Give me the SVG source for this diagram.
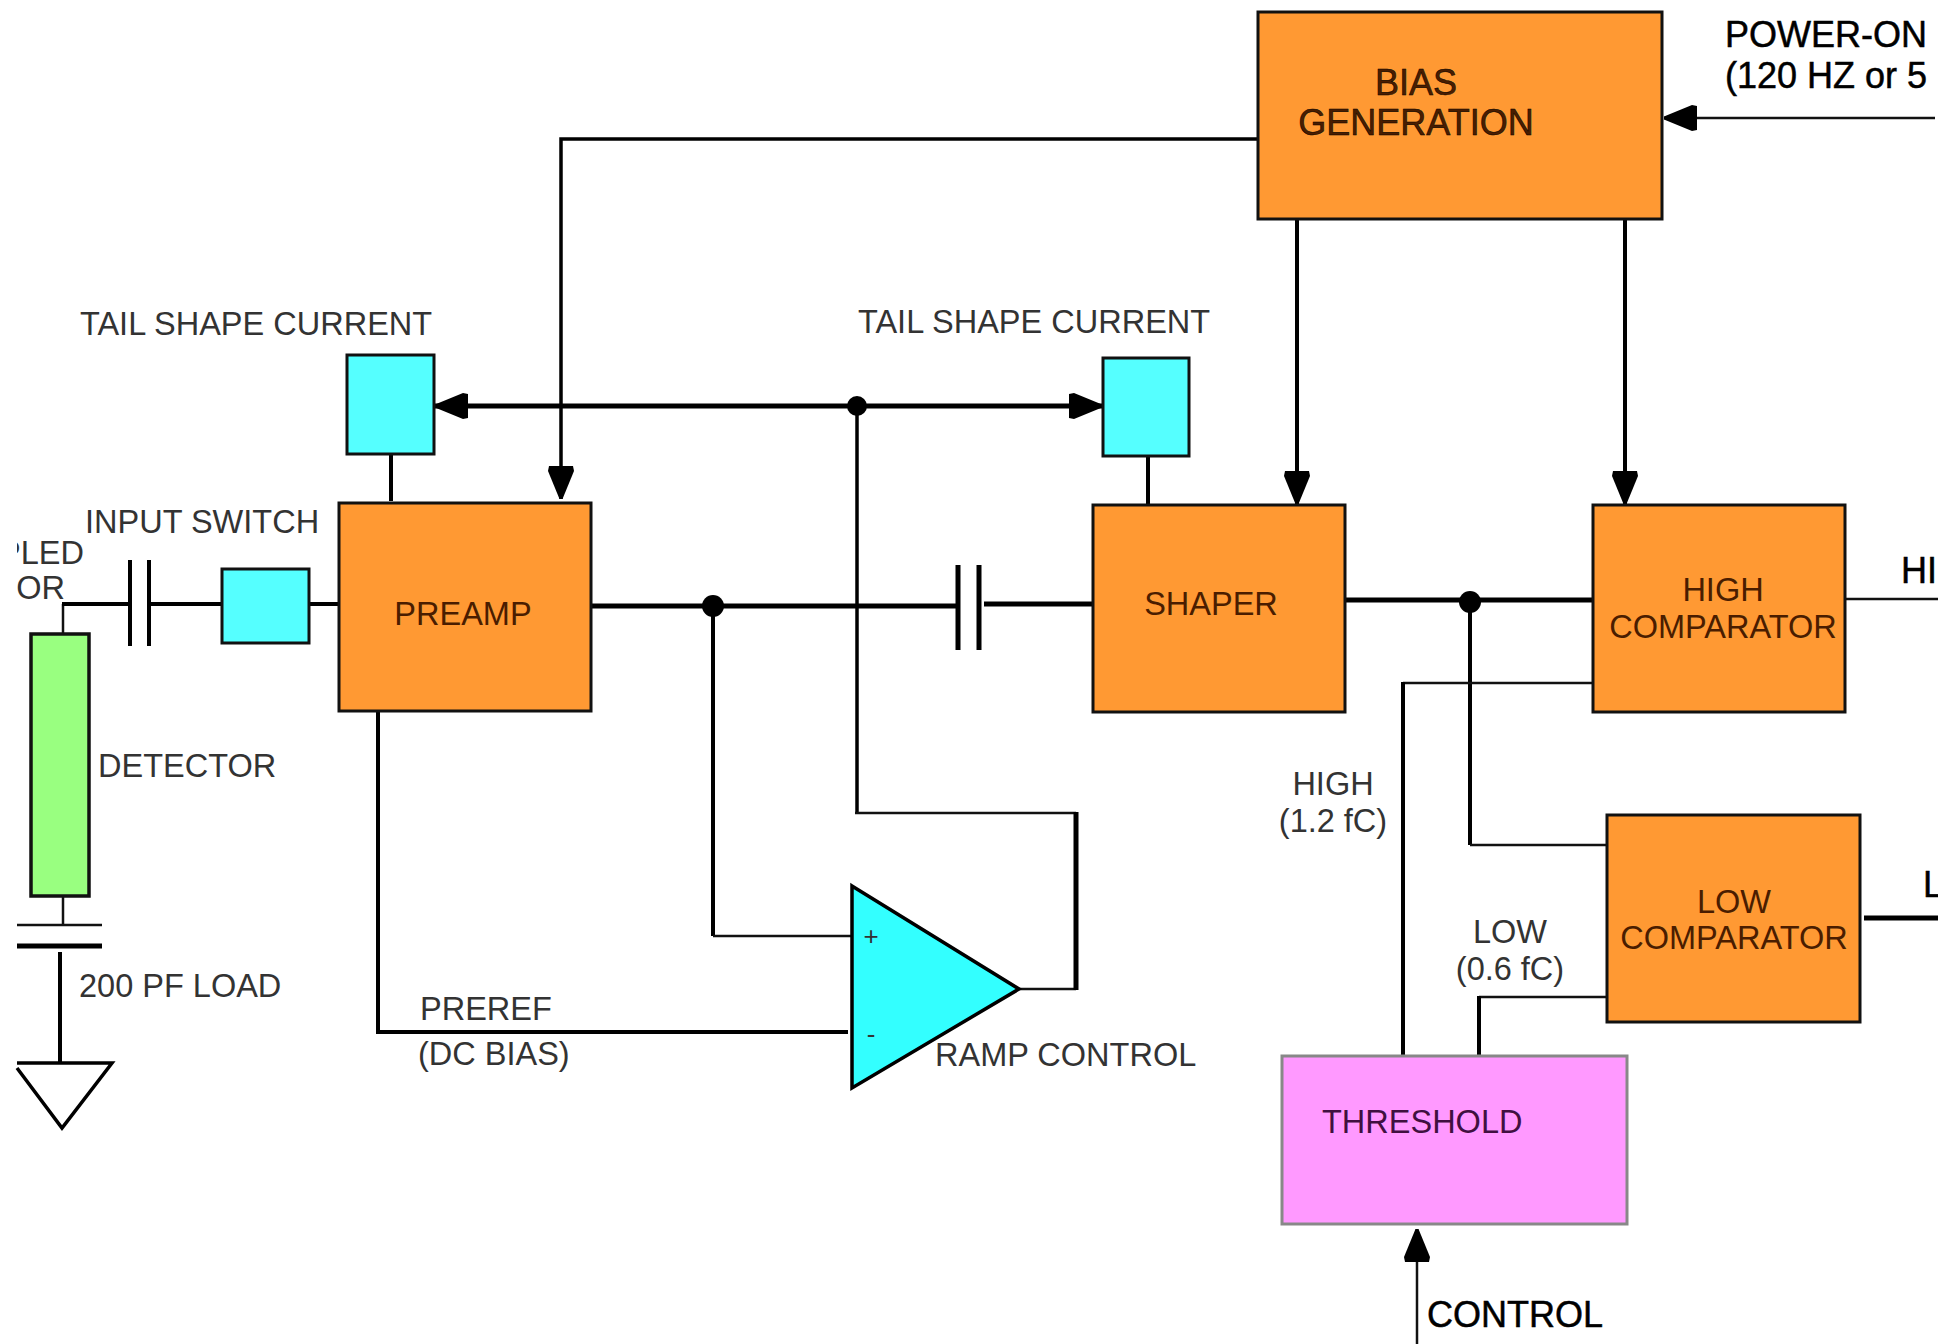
<svg xmlns="http://www.w3.org/2000/svg" width="1955" height="1344" viewBox="0 0 1955 1344">
<style>
text{font-family:"Liberation Sans",Arial,sans-serif;font-size:32.5px;fill:#333}
.d{fill:#000;font-size:36px;stroke:#000;stroke-width:.5px}
.b{fill:#4a1d00}
.box{stroke:#111;stroke-width:3}
.o{fill:#ff9933}
.c{fill:#55ffff}
.t{fill:none;stroke:#111;stroke-width:2.5}
.n{fill:none;stroke:#000;stroke-width:3.5}
.m{fill:none;stroke:#000;stroke-width:4}
.k{fill:none;stroke:#000;stroke-width:5}
.dot{fill:#000}
</style>
<defs>
<clipPath id="lc"><rect x="17" y="0" width="1921" height="1344"/></clipPath>
<marker id="a" markerUnits="userSpaceOnUse" markerWidth="38" markerHeight="34" refX="33" refY="17" orient="auto"><path d="M0 5L5 4L33 15.5V18.5L5 30L0 29Z" fill="#000"/></marker>
</defs>
<rect width="1955" height="1344" fill="#fff"/>
<g id="connectors">
<path class="n" d="M1258 139H561V499" marker-end="url(#a)"/>
<path class="k" d="M857 406H435" marker-end="url(#a)"/>
<path class="k" d="M857 406H1102" marker-end="url(#a)"/>
<path class="n" d="M857 406V813"/>
<path class="t" d="M855 813H1076M1076 989H1019"/>
<path class="k" d="M1076 812V990"/>
<path class="m" d="M391 454V501"/>
<path class="m" d="M1148 456V505"/>
<path class="m" d="M1297 219V504" marker-end="url(#a)"/>
<path class="m" d="M1625 219V504" marker-end="url(#a)"/>
<path class="t" d="M1935 118H1664" marker-end="url(#a)"/>
<path class="k" d="M591 606H958"/>
<path class="k" d="M984 604H1093"/>
<path class="k" d="M958 565V650M979 565V650"/>
<path class="k" d="M1345 600H1593"/>
<path class="t" d="M1845 599H1938"/>
<path class="k" d="M1864 918H1938"/>
<path class="m" d="M1470 600V845"/>
<path class="t" d="M1470 845H1607"/>
<path class="t" d="M1403 683H1593"/>
<path class="m" d="M1403 1056V682"/>
<path class="t" d="M1479 997H1607"/>
<path class="m" d="M1479 1056V996"/>
<path class="m" d="M713 606V936"/>
<path class="t" d="M713 936H852"/>
<path class="m" d="M378 711V1032H848"/>
<path class="m" d="M308 604H339"/>
<path class="m" d="M151 604H222"/>
<path class="t" d="M63 633V604"/>
<path class="m" d="M62 604H128"/>
<path class="m" d="M130 560V646M149 560V646"/>
<path class="t" d="M63 896V925"/>
<path class="t" d="M17 925H102"/>
<path class="k" d="M17 946H102"/>
<path class="m" d="M60 952V1062"/>
<path d="M17 1063H112L62 1128L17 1068" fill="none" stroke="#000" stroke-width="3.5"/>
<path class="t" d="M1417 1344V1229" marker-end="url(#a)"/>
<circle class="dot" cx="857" cy="406" r="10"/>
<circle class="dot" cx="713" cy="606" r="11"/>
<circle class="dot" cx="1470" cy="602" r="11"/>
</g>
<g id="bias"><rect class="box o" x="1258" y="12" width="404" height="207"/><text class="b d" x="1416" y="95" text-anchor="middle">BIAS</text><text class="b d" x="1416" y="135" text-anchor="middle">GENERATION</text></g>
<g id="preamp"><rect class="box o" x="339" y="503" width="252" height="208"/><text class="b" x="463" y="625" text-anchor="middle">PREAMP</text></g>
<g id="shaper"><rect class="box o" x="1093" y="505" width="252" height="207"/><text class="b" x="1211" y="615" text-anchor="middle">SHAPER</text></g>
<g id="high-comparator"><rect class="box o" x="1593" y="505" width="252" height="207"/><text class="b" x="1723" y="601" text-anchor="middle">HIGH</text><text class="b" x="1723" y="638" text-anchor="middle">COMPARATOR</text></g>
<g id="low-comparator"><rect class="box o" x="1607" y="815" width="253" height="207"/><text class="b" x="1734" y="913" text-anchor="middle">LOW</text><text class="b" x="1734" y="949" text-anchor="middle">COMPARATOR</text></g>
<g id="threshold"><rect x="1282" y="1056" width="345" height="168" fill="#ff99ff" stroke="#888" stroke-width="3"/><text x="1322" y="1133" style="fill:#401040">THRESHOLD</text></g>
<g id="tail-left"><rect class="box c" x="347" y="355" width="87" height="99"/></g>
<g id="tail-right"><rect class="box c" x="1103" y="358" width="86" height="98"/></g>
<g id="input-switch"><rect class="box c" x="222" y="569" width="87" height="74"/></g>
<g id="detector"><rect x="31" y="634" width="58" height="262" fill="#99ff80" stroke="#111" stroke-width="3.5"/></g>
<g id="ramp-amp"><path d="M852 886L1019 989L852 1088Z" fill="#33ffff" stroke="#000" stroke-width="3.5"/><text x="871" y="945" text-anchor="middle" style="font-size:26px">+</text><text x="871" y="1043" text-anchor="middle" style="font-size:26px">-</text></g>
<g id="labels">
<text x="80" y="335">TAIL SHAPE CURRENT</text>
<text x="858" y="333">TAIL SHAPE CURRENT</text>
<text x="85" y="533">INPUT  SWITCH</text>
<g clip-path="url(#lc)"><text x="-1" y="564">PLED</text><text x="-3" y="599">TOR</text></g>
<text x="98" y="777">DETECTOR</text>
<text x="79" y="997">200 PF LOAD</text>
<text x="420" y="1020">PREREF</text>
<text x="418" y="1065">(DC BIAS)</text>
<text x="935" y="1066">RAMP CONTROL</text>
<text x="1333" y="795" text-anchor="middle">HIGH</text>
<text x="1333" y="832" text-anchor="middle">(1.2 fC)</text>
<text x="1510" y="943" text-anchor="middle">LOW</text>
<text x="1510" y="980" text-anchor="middle">(0.6 fC)</text>
<g clip-path="url(#lc)">
<text class="d" x="1725" y="47">POWER-ON</text>
<text class="d" x="1725" y="88">(120 HZ or 5</text>
<text class="d" x="1901" y="583">HI</text>
<text class="d" x="1923" y="897">L</text>
</g>
<text class="d" x="1427" y="1327">CONTROL</text>
</g>
</svg>
